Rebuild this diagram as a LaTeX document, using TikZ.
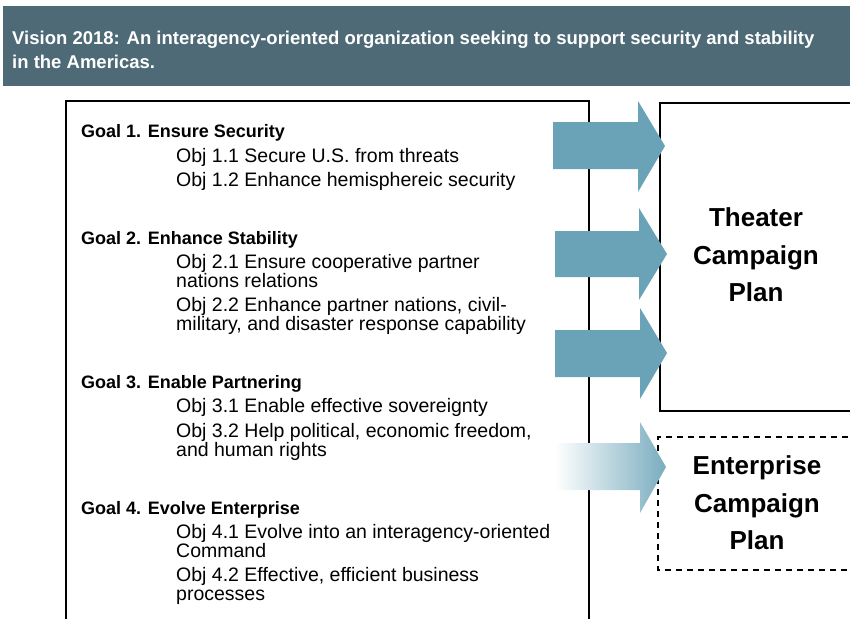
\documentclass[tikz,border=0pt]{standalone}
\usepackage{fontspec}
\setmainfont{Liberation Sans}
\definecolor{bannerbg}{HTML}{4D6A76}
\definecolor{arrowblue}{HTML}{6AA3B8}
\begin{document}
\begin{tikzpicture}[x=1pt,y=-1pt,
  goal/.style={anchor=base west, inner sep=0pt, font=\fontsize{18}{18}\selectfont\bfseries},
  obj/.style={anchor=base west, inner sep=0pt, align=left, font=\fontsize{19.5}{19}\selectfont},
  plantext/.style={align=center, inner sep=0pt, font=\fontsize{26}{37.5}\selectfont\bfseries},
  frame/.style={draw=black, line width=2pt},
  bigarrow/.style={fill=arrowblue, draw=none}]
\useasboundingbox (0,0) rectangle (850,618);
\clip (0,0) rectangle (850,618);
% banner
\fill[bannerbg] (3,6) rectangle (850,86);
\node[anchor=base west, inner sep=0pt, align=left, text=white,
      font=\fontsize{18.5}{24}\selectfont\bfseries] (vision) at (12,68)
  {Vision 2018: An interagency-oriented organization seeking to support security and stability\\in the Americas.};
% frames
\draw[frame] (66,630) -- (66,101) -- (589,101) -- (589,630);
\draw[frame] (870,103) -- (660,103) -- (660,411) -- (870,411);
\draw[frame, dash pattern=on 6pt off 5pt] (870,437) -- (658,437) -- (658,570) -- (870,570);
% goals and objectives (base = baseline of the last line)
\node[goal] (g1) at (81,137) {Goal 1. Ensure Security};
\node[obj] (o11) at (176,162) {Obj 1.1 Secure U.S. from threats};
\node[obj] (o12) at (176,186) {Obj 1.2 Enhance hemisphereic security};
\node[goal] (g2) at (81,244) {Goal 2. Enhance Stability};
\node[obj] (o21) at (176,287) {Obj 2.1 Ensure cooperative partner\\nations relations};
\node[obj] (o22) at (176,330) {Obj 2.2 Enhance partner nations, civil-\\military, and disaster response capability};
\node[goal] (g3) at (81,388) {Goal 3. Enable Partnering};
\node[obj] (o31) at (176,412) {Obj 3.1 Enable effective sovereignty};
\node[obj] (o32) at (176,456) {Obj 3.2 Help political, economic freedom,\\and human rights};
\node[goal] (g4) at (81,514) {Goal 4. Evolve Enterprise};
\node[obj] (o41) at (176,557) {Obj 4.1 Evolve into an interagency-oriented\\Command};
\node[obj] (o42) at (176,600) {Obj 4.2 Effective, efficient business\\processes};
% plan boxes text
\node[plantext] (theater) at (756,255) {Theater\\Campaign\\Plan};
\node[plantext] (enterprise) at (757,503) {Enterprise\\Campaign\\Plan};
% arrows
\fill[bigarrow] (553,122) -- (638,122) -- (638,101) -- (665,146) -- (638,192) -- (638,169) -- (553,169) -- cycle;
\fill[bigarrow] (555,231) -- (639,231) -- (639,208) -- (667,254) -- (639,300) -- (639,277) -- (555,277) -- cycle;
\fill[bigarrow] (555,330) -- (640,330) -- (640,308) -- (667,353) -- (640,399) -- (640,377) -- (555,377) -- cycle;
\shade[left color=white, right color=arrowblue!90] (555,443) -- (640,443) -- (640,422) -- (666,467) -- (640,513) -- (640,490) -- (555,490) -- cycle;
\end{tikzpicture}
\end{document}
